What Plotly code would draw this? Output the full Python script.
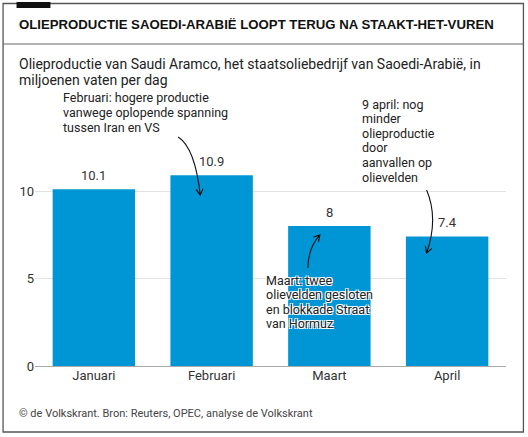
import plotly.graph_objects as go

# Olieproductie Saudi Aramco, miljoenen vaten per dag
months = ["Januari", "Februari", "Maart", "April"]
production = [10.1, 10.9, 8.0, 7.4]
y_ticks = [0, 5, 10]

title = "OLIEPRODUCTIE SAOEDI-ARABIË LOOPT TERUG NA STAAKT-HET-VUREN"
subtitle = ["Olieproductie van Saudi Aramco, het staatsoliebedrijf van Saoedi-Arabië, in",
            "miljoenen vaten per dag"]
source = "© de Volkskrant. Bron: Reuters, OPEC, analyse de Volkskrant"

note_feb = ["Februari: hogere productie", "vanwege oplopende spanning", "tussen Iran en VS"]
note_mar = ["Maart: twee", "olievelden gesloten", "en blokkade Straat", "van Hormuz"]
note_apr = ["9 april: nog", "minder", "olieproductie", "door", "aanvallen op", "olievelden"]

BLUE = "#0096d6"
TEXT = "#222222"
FONT = "Roboto"
HALO = "1px 1px 0 #fff, -1px -1px 0 #fff, 1px -1px 0 #fff, -1px 1px 0 #fff"

W, H = 528, 437
M_L, M_R, M_T, M_B = 34.5, 21.5, 86, 71
Y_MAX = 16
# pixels per data unit, used to draw arrowheads with the right angle
SX = (W - M_L - M_R) / 4.0
SY = (H - M_T - M_B) / Y_MAX


def curved_arrow(p0, c, p1, size=7):
    """quadratic curve p0 -> p1 with an open arrowhead at p1 (data coords)"""
    dx = (p1[0] - c[0]) * SX
    dy = (p1[1] - c[1]) * SY
    n = (dx ** 2 + dy ** 2) ** 0.5
    ux, uy = -dx / n, -dy / n
    arms = []
    for s in (0.5, -0.5):
        cs = 0.866
        rx = ux * cs - uy * s
        ry = ux * s + uy * cs
        arms.append((p1[0] + rx * size / SX, p1[1] + ry * size / SY))
    path = (f"M {p0[0]},{p0[1]} Q {c[0]},{c[1]} {p1[0]},{p1[1]} "
            f"M {arms[0][0]},{arms[0][1]} L {p1[0]},{p1[1]} L {arms[1][0]},{arms[1][1]}")
    return dict(type="path", path=path, xref="x", yref="y",
                line=dict(color="#111111", width=1.1))


def add_lines(fig, lines, x, y, spacing, xref="x", yref="y", **font):
    # plotly's own line height is too loose, so one annotation per line
    for i, line in enumerate(lines):
        fig.add_annotation(x=x, y=y, xref=xref, yref=yref, text=line,
                           xanchor="left", yanchor="middle", showarrow=False,
                           yshift=-i * spacing, font=font)


fig = go.Figure()
fig.add_trace(go.Bar(
    x=list(range(len(months))), y=production, width=0.7,
    marker=dict(color=BLUE, line=dict(width=0)),
    hoverinfo="skip",
))

# waarden boven de staven
for i, v in enumerate(production):
    fig.add_annotation(x=i, y=v, text=f"{v:g}", showarrow=False, yshift=14,
                       font=dict(family=FONT, size=13, color="#333333"))

# kader en koplijn
fig.add_shape(type="rect", xref="paper", yref="paper",
              x0=-0.0678, x1=1.037, y0=-0.2357, y1=1.2946,
              line=dict(color="#555555", width=1.3))
fig.add_shape(type="line", xref="paper", yref="paper",
              x0=-0.0678, x1=1.037, y0=1.15, y1=1.15,
              line=dict(color="#666666", width=1))
fig.add_shape(type="rect", xref="paper", yref="paper",
              x0=-0.0392, x1=0.0328, y0=1.279, y1=1.3,
              fillcolor="#111111", line=dict(width=0))

fig.add_annotation(xref="paper", yref="paper", x=-0.0392, y=1.2214,
                   xanchor="left", yanchor="middle", showarrow=False,
                   text=f"<b>{title}</b>",
                   font=dict(family="Liberation Sans", size=13.2, color="#111111"))
add_lines(fig, subtitle, -0.0392, 1.0786, 16, xref="paper", yref="paper",
          family=FONT, size=14, color=TEXT)
fig.add_annotation(xref="paper", yref="paper", x=-0.0392, y=-0.168,
                   xanchor="left", yanchor="middle", showarrow=False,
                   text=source, font=dict(family=FONT, size=11, color="#444444"))

# toelichtingen
add_lines(fig, note_feb, -0.275, 15.37, 15, family=FONT, size=12.5, color=TEXT)
add_lines(fig, note_mar, 1.445, 4.91, 14.5, family=FONT, size=12.5, color=TEXT,
          shadow=HALO)
add_lines(fig, note_apr, 2.258, 14.97, 14.6, family=FONT, size=12.5, color=TEXT)

fig.add_shape(curved_arrow((0.716, 13.09), (0.86, 12.46), (0.903, 9.77)))
fig.add_shape(curved_arrow((1.818, 5.6), (1.818, 6.71), (1.919, 7.49)))
fig.add_shape(curved_arrow((2.826, 10.06), (2.928, 8.43), (2.826, 6.46)))

fig.update_layout(
    width=W, height=H,
    margin=dict(l=M_L, r=M_R, t=M_T, b=M_B, pad=0),
    paper_bgcolor="white", plot_bgcolor="white",
    showlegend=False,
    font=dict(family=FONT, size=13, color="#333333"),
    xaxis=dict(range=[-0.5, 3.5], tickvals=list(range(len(months))),
               ticktext=months, showgrid=False, zeroline=False,
               showline=False, ticks="", tickfont=dict(size=13, color="#333333"),
               fixedrange=True),
    yaxis=dict(range=[0, Y_MAX], tickvals=y_ticks, showgrid=True,
               gridcolor="#e2e2e2", gridwidth=1, zeroline=True,
               zerolinecolor="#aaaaaa", zerolinewidth=1, ticks="",
               tickfont=dict(size=13, color="#333333"), fixedrange=True),
)

# pagina zonder standaard body-marge, anders schuift alles 8px op
fig.write_html("out.html", config={"displayModeBar": False},
               post_script="document.body.style.margin = '0';")
